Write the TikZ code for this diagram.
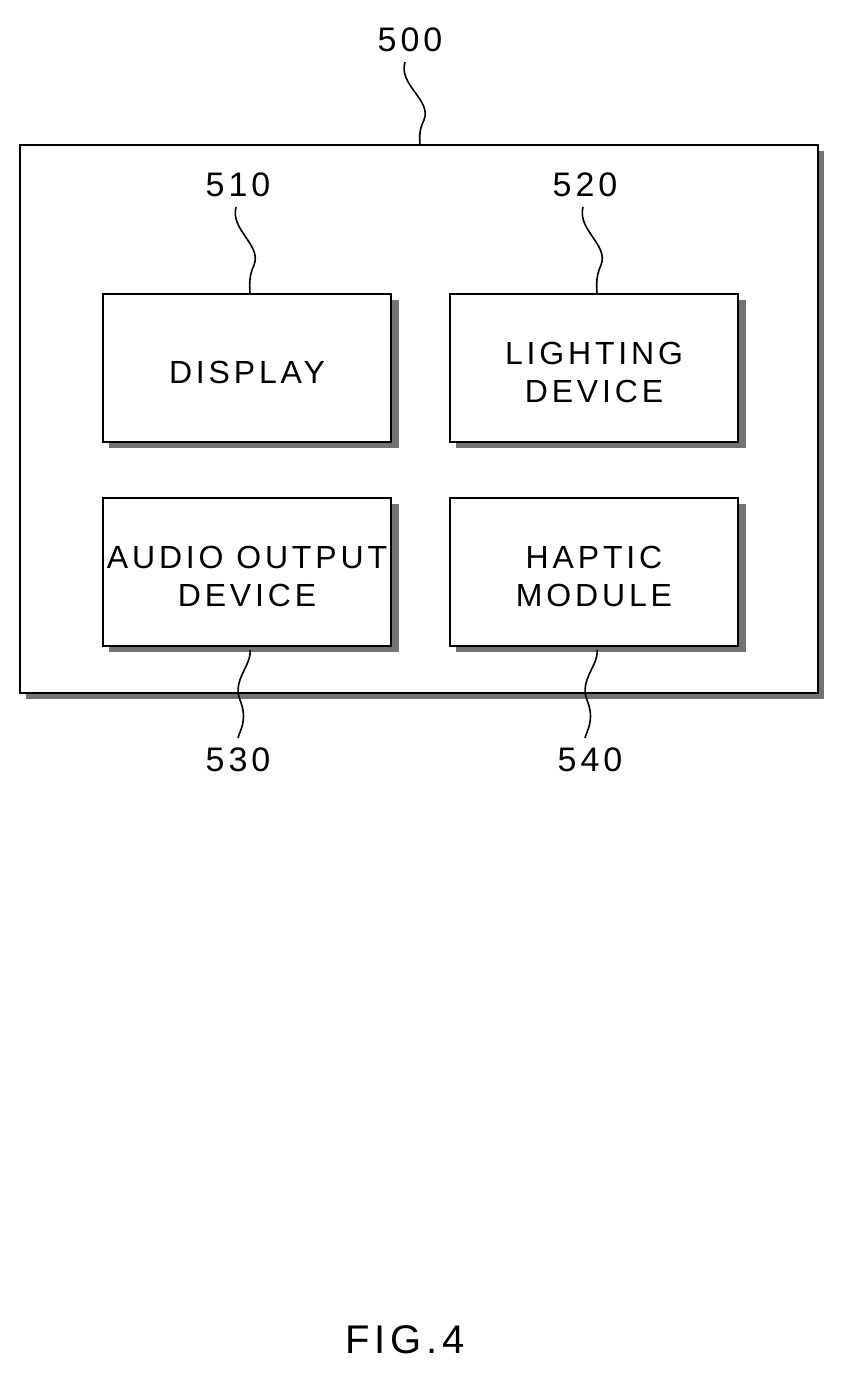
\documentclass[tikz,border=0pt]{standalone}
\usepackage{fontspec}
\setmainfont{Liberation Sans}[LetterSpace=12]
\begin{document}
\begin{tikzpicture}[x=1pt,y=-1pt,
  box/.style={draw=black,line width=2pt,fill=white,minimum width=#1},
  shd/.style={fill=black!55},
  lbl/.style={font=\fontsize{32}{38}\selectfont,align=center},
  num/.style={font=\fontsize{34}{38}\selectfont},
  lead/.style={line width=1.6pt}]
\useasboundingbox (0,0) rectangle (844,1381);
% outer
\fill[shd] (26,151) rectangle (824,699);
\draw[line width=2pt,fill=white] (20,145) rectangle (818,693);
\node[draw=none] (outer) at (419,419) {};
% inner boxes
\foreach \n/\x/\y in {d/103/294,l/450/294,a/103/498,h/450/498}{
  \fill[shd] (\x+6,\y+6) rectangle (\x+296,\y+154);
  \draw[line width=2pt,fill=white] (\x,\y) rectangle (\x+288,\y+148);
}
\node[lbl] (disp) at (247,372) {DISPLAY};
\node[lbl] (light) at (594,372) {LIGHTING\\DEVICE};
\node[lbl] (audio) at (247,576) {AUDIO OUTPUT\\DEVICE};
\node[lbl] (hap) at (594,576) {HAPTIC\\MODULE};
\node[num] (n500) at (410,40) {500};
\node[num] (n510) at (238,185) {510};
\node[num] (n520) at (585,185) {520};
\node[num] (n530) at (238,760) {530};
\node[num] (n540) at (590,760) {540};
\coordinate (t500) at (420,145);
\coordinate (t510) at (250,294);
\coordinate (t520) at (597,294);
\coordinate (t530) at (250,650);
\coordinate (t540) at (597,650);
\draw[lead] (405,62) .. controls (398,85) and (432,100) .. (424,120) .. controls (418,132) and (420,140) .. (t500);
\draw[lead] (236,207) .. controls (230,230) and (262,245) .. (254,265) .. controls (248,278) and (250,288) .. (t510);
\draw[lead] (583,207) .. controls (577,230) and (609,245) .. (601,265) .. controls (595,278) and (597,288) .. (t520);
\draw[lead] (t530) .. controls (252,665) and (232,680) .. (240,700) .. controls (248,720) and (240,730) .. (238,738);
\draw[lead] (t540) .. controls (599,665) and (579,680) .. (587,700) .. controls (595,720) and (587,730) .. (585,738);
\node[font=\fontsize{40}{44}\selectfont] (fig) at (405,1340) {FIG.4};
\end{tikzpicture}
\end{document}
